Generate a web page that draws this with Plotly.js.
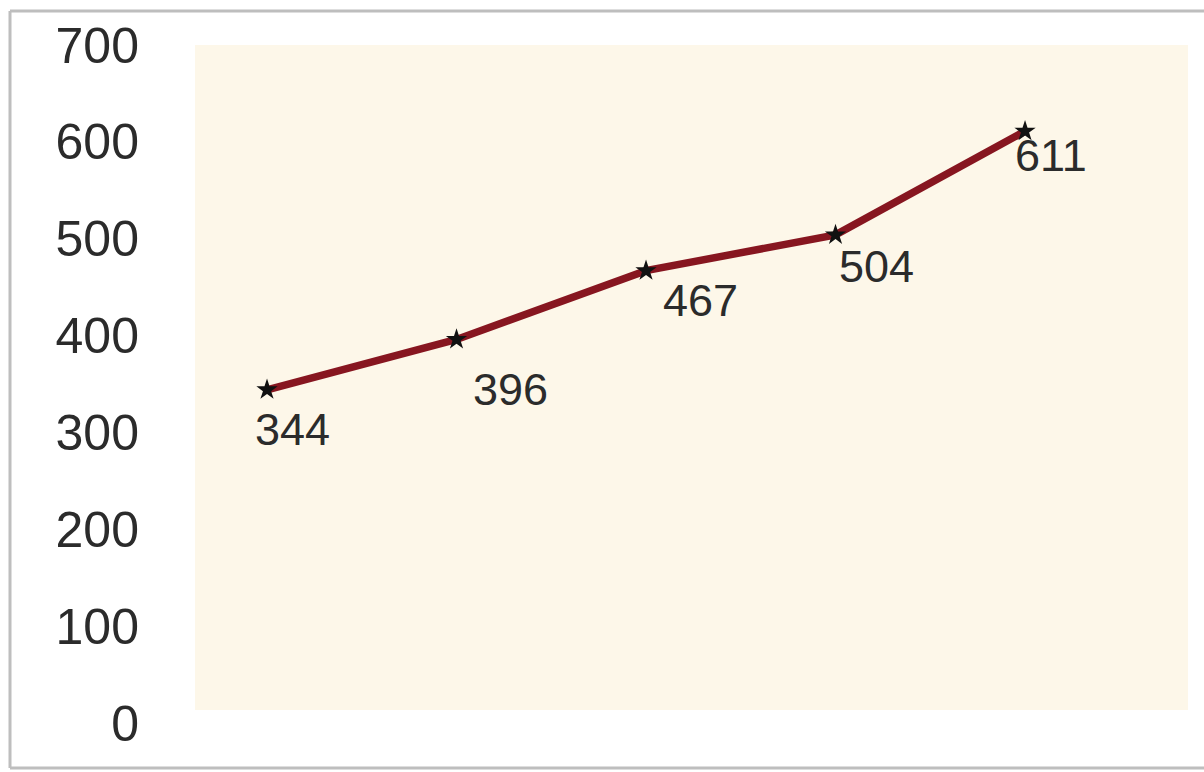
<!DOCTYPE html>
<html>
<head>
<meta charset="utf-8">
<script src="https://cdn.plot.ly/plotly-3.0.1.min.js"></script>
<style>html,body{margin:0;padding:0;background:#fff;}#chart{width:1204px;height:772px;}</style>
</head>
<body>
<div id="chart"></div>
<script>
// ---- data ----
var categories = ['1', '2', '3', '4', '5'];
var values = [344, 396, 467, 504, 611];
var labels = ['344', '396', '467', '504', '611'];
var yTickValues = [0, 100, 200, 300, 400, 500, 600, 700];

// ---- label offsets (px, style only) ----
var labelDx = [-14, 14, 15, 1, -12];
var labelDy = [-40, -50, -30, -32, -24];

var W = 1204, H = 772;
var M = {l: 195, r: 16, t: 45, b: 49};
var PW = W - M.l - M.r, PH = H - M.t - M.b;
function px(x) { return (x - M.l) / PW; }
function py(y) { return (H - M.b - y) / PH; }

var trace = {
  x: categories,
  y: values,
  type: 'scatter',
  mode: 'lines+markers',
  line: {color: 'rgb(135,22,32)', width: 7.5},
  marker: {symbol: 'star', color: '#111', size: 16, line: {width: 0}},
  hoverinfo: 'skip'
};

var annotations = values.map(function (v, i) {
  return {
    x: i, y: v, xref: 'x', yref: 'y',
    text: labels[i], showarrow: false,
    xanchor: 'left', yanchor: 'middle',
    xshift: labelDx[i], yshift: labelDy[i],
    font: {family: 'Liberation Sans, Arial, sans-serif', size: 45, color: '#2b2b2b'}
  };
});

var gray = 'rgb(190,190,190)';
var shapes = [
  {type: 'rect', xref: 'paper', yref: 'paper', x0: 0, x1: 1, y0: py(710), y1: 1,
   fillcolor: 'rgb(253,247,233)', line: {width: 0}, layer: 'below'},
  {type: 'line', xref: 'paper', yref: 'paper', x0: px(10), x1: px(1210), y0: py(11), y1: py(11), line: {color: gray, width: 3}},
  {type: 'line', xref: 'paper', yref: 'paper', x0: px(10), x1: px(10), y0: py(11), y1: py(768), line: {color: gray, width: 3}},
  {type: 'line', xref: 'paper', yref: 'paper', x0: px(10), x1: px(1210), y0: py(768), y1: py(768), line: {color: gray, width: 3}}
];

var layout = {
  width: W, height: H,
  margin: M,
  paper_bgcolor: '#ffffff',
  plot_bgcolor: 'rgba(0,0,0,0)',
  showlegend: false,
  xaxis: {
    type: 'category',
    range: [-0.38, 4.86],
    showgrid: false, zeroline: false, showline: false,
    showticklabels: false, ticks: ''
  },
  yaxis: {
    range: [0, 700],
    tickvals: yTickValues,
    ticktext: yTickValues.map(String),
    showgrid: false, zeroline: false, showline: false,
    ticks: '',
    ticklabelstandoff: 55,
    tickfont: {family: 'Liberation Sans, Arial, sans-serif', size: 50, color: '#2b2b2b'}
  },
  shapes: shapes,
  annotations: annotations
};

Plotly.newPlot('chart', [trace], layout, {staticPlot: true, displayModeBar: false});
</script>
</body>
</html>
